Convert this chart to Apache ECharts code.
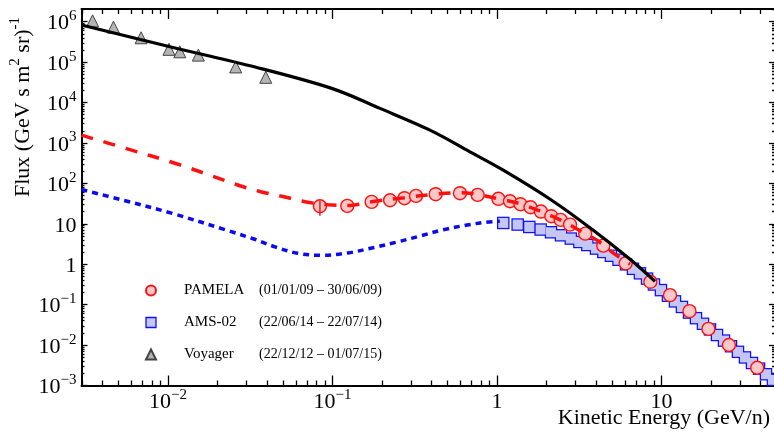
<!DOCTYPE html>
<html><head><meta charset="utf-8">
<script src="https://cdn.jsdelivr.net/npm/echarts@6/dist/echarts.min.js"></script>
<style>html,body{margin:0;padding:0;background:#fff}#c{width:774px;height:432px}</style>
</head><body><div id="c"></div>
<script>
const FONT = '"Liberation Serif","Times New Roman",serif';

// ---- data (kinetic energy GeV/n, flux) ----
const voyagerE = [0.00348, 0.00466, 0.00686, 0.01014, 0.0118, 0.0153, 0.0258, 0.0393];
const voyagerF = [1.05e6, 7.3e5, 4.0e5, 2.07e5, 1.8e5, 1.49e5, 7.6e4, 4.2e4];

const pamelaE = [0.0839,0.123,0.173,0.224,0.274,0.322,0.424,0.596,0.763,1.02,1.20,1.39,1.60,1.85,2.14,2.44,2.78,3.44,4.43,6.06,8.56,11.27,14.8,19.3,25.7,38.2];
const pamelaF = [27.2,27.8,34.9,38.3,43.0,49.2,54.0,57.2,52.1,41.5,36.1,30.5,25.7,20.1,15.4,12.5,9.55,5.71,2.88,1.05,0.368,0.172,0.069,0.0251,0.01005,0.00275];
const pamelaErrE = [0.0839, 0.0839];
const pamelaErrF = [15.8, 37];

const amsE = [1.092,1.336,1.572,1.844,2.13,2.45,2.81,3.17,3.54,4.0,4.43,4.93,5.48,6.09,6.71,7.40,8.17,9.00,9.93,10.95,12.08,13.32,14.70,16.21,17.88,19.72,21.75,23.99,26.46,29.18,32.18,35.5,39.2,43.2,47.6];
const amsF = [10.5,9.58,8.36,7.21,6.18,5.20,4.31,3.55,2.99,2.44,2.01,1.62,1.29,0.995,0.771,0.596,0.441,0.315,0.229,0.166,0.1206,0.0877,0.0637,0.0463,0.0336,0.0244,0.01775,0.0129,0.00937,0.00681,0.00495,0.0036,0.00261,0.0019,0.00138];

const lisE = [0.00298,0.01028,0.0315,0.0989,0.1944,0.3915,0.685,1.092,2.15,3.85,6.44,9.13];
const lisF = [8.28e5,2.40e5,8.13e4,2.24e4,7160,2075,603,212,38.3,6.92,1.32,0.378];

const redE = [0.00298,0.00548,0.0115,0.0274,0.0367,0.0521,0.068,0.0939,0.128,0.173,0.274,0.42,0.596,0.788,1.014,1.38,1.85,2.42,3.2,4.14,5.22,6.44];
const redF = [1560,743,298,87.5,62.2,45.5,35.2,29.6,28.5,35.2,44.2,54,58.8,52,41.7,31.4,20.1,12.5,6.73,3.70,1.76,1.0];

const blueE = [0.00298,0.00535,0.01072,0.0228,0.0329,0.0447,0.0617,0.0875,0.124,0.176,0.247,0.340,0.470,0.658,0.846,1.04];
const blueF = [70.5,38.3,17.9,6.92,4.27,2.70,1.86,1.66,1.90,2.55,3.55,4.98,7.13,9.31,10.9,11.6];

// ---- axes / ticks / labels ----
const xMin = 0.00298, xMax = 49;
const yMin = 0.001, yMax = 2.06e6;
const xMajor = [0.01, 0.1, 1, 10];
const xMajorLabels = ['{b|10}{s|\u22122}', '{b|10}{s|\u22121}', '{b|1}', '{b|10}'];
const yMajor = [1e-3, 1e-2, 1e-1, 1, 10, 100, 1e3, 1e4, 1e5, 1e6];
const yMajorLabels = ['{b|10}{s|\u22123}', '{b|10}{s|\u22122}', '{b|10}{s|\u22121}', '{b|1}', '{b|10}', '{b|10}{s|2}', '{b|10}{s|3}', '{b|10}{s|4}', '{b|10}{s|5}', '{b|10}{s|6}'];
const seriesNames = ['PAMELA', 'AMS-02', 'Voyager'];
const seriesDates = ['(01/01/09 \u2013 30/06/09)', '(22/06/14 \u2013 22/07/14)', '(22/12/12 \u2013 01/07/15)'];
const xTitle = 'Kinetic Energy (GeV/n)';
const yTitle = '{n|Flux (GeV s m}{s|2}{n| sr)}{s|-1}';

function minorTicks(lo, hi) {
  const out = [];
  for (let k = -4; k <= 7; k++) for (let m = 2; m <= 9; m++) {
    const v = m * Math.pow(10, k);
    if (v > lo && v < hi) out.push(+v.toPrecision(3));
  }
  return out;
}
const xMinor = minorTicks(xMin, xMax);
const yMinor = minorTicks(yMin, yMax);

const rich = {
  b: {fontFamily: FONT, fontSize: 22, lineHeight: 26, verticalAlign: 'bottom', color: '#000'},
  s: {fontFamily: FONT, fontSize: 15, lineHeight: 15, verticalAlign: 'top', color: '#000'}
};
function lab(values, labels) {
  return function (v) {
    const i = values.findIndex(t => Math.abs(Math.log10(t) - Math.log10(v)) < 1e-6);
    return i >= 0 ? labels[i] : '';
  };
}
function mkAxis(kind, position, ticks, len, main, labels) {
  const isX = kind === 'x';
  return {
    type: 'log', logBase: 10, position: position,
    min: isX ? xMin : yMin, max: isX ? xMax : yMax,
    axisLine: {show: main, onZero: false, lineStyle: {color: '#000', width: 2}},
    axisTick: {show: true, inside: true, length: len, customValues: ticks, lineStyle: {color: '#000', width: 1.3}},
    axisLabel: labels ? {show: true, customValues: ticks, formatter: lab(ticks, labels), rich: rich, margin: isX ? 2 : 5, color: '#000'} : {show: false},
    splitLine: {show: false}, minorTick: {show: false}, minorSplitLine: {show: false}
  };
}
const xAxes = [
  mkAxis('x', 'bottom', xMajor, 10, true, xMajorLabels),
  mkAxis('x', 'bottom', xMinor, 5, false, null),
  mkAxis('x', 'top', xMajor, 10, true, null),
  mkAxis('x', 'top', xMinor, 5, false, null)
];
const yAxes = [
  mkAxis('y', 'left', yMajor, 6, true, yMajorLabels),
  mkAxis('y', 'left', yMinor, 3, false, null),
  mkAxis('y', 'right', yMajor, 6, true, null),
  mkAxis('y', 'right', yMinor, 3, false, null)
];

const zip = (a, b) => a.map((v, i) => [v, b[i]]);

const chart = echarts.init(document.getElementById('c'), null, {renderer: 'canvas'});
chart.setOption({
  animation: false,
  backgroundColor: '#fff',
  grid: {left: 81.5, right: -1, top: 9, bottom: 46.5, containLabel: false, outerBoundsMode: 'none'},
  xAxis: xAxes,
  yAxis: yAxes,
  legend: {
    orient: 'vertical', left: 145, top: 283, padding: 0, itemWidth: 10, itemHeight: 10, itemGap: 17,
    selectedMode: false,
    data: [
      {name: seriesNames[0], icon: 'circle'},
      {name: seriesNames[1], icon: 'rect', itemStyle: {color: '#c4c6f6', borderColor: '#1010ff', borderWidth: 1.3}},
      {name: seriesNames[2], icon: 'triangle'}
    ],
    formatter: function (name) {
      const i = seriesNames.indexOf(name);
      return '{a|' + name + '}{d|' + seriesDates[i] + '}';
    },
    textStyle: {
      fontFamily: FONT, fontSize: 15, color: '#000',
      rich: {
        a: {fontFamily: FONT, fontSize: 15, color: '#000', width: 75, padding: [0, 0, 0, 23], lineHeight: 16},
        d: {fontFamily: FONT, fontSize: 14, color: '#000', lineHeight: 16}
      }
    }
  },
  graphic: [
    {type: 'text', x: 21, y: 107, rotation: Math.PI / 2,
      style: {text: yTitle, align: 'center', verticalAlign: 'middle', textAlign: 'center', textVerticalAlign: 'middle',
        rich: {
          n: {fontFamily: FONT, fontSize: 22, lineHeight: 26, verticalAlign: 'bottom', fill: '#000'},
          s: {fontFamily: FONT, fontSize: 15, lineHeight: 15, verticalAlign: 'top', fill: '#000'}
        }}},
    {type: 'text', x: 770, y: 418,
      style: {text: xTitle, font: '22px ' + FONT, fill: '#000', align: 'right', verticalAlign: 'middle', textAlign: 'right', textVerticalAlign: 'middle'}}
  ],
  series: [
    {name: 'model-blue', type: 'line', data: zip(blueE, blueF), showSymbol: false, smooth: 0.35,
      lineStyle: {color: '#0a0aee', width: 3.5, type: [6, 5]}, silent: true},
    {name: 'model-red', type: 'line', data: zip(redE, redF), showSymbol: false, smooth: 0.35,
      lineStyle: {color: '#ff1010', width: 3.5, type: [12, 11]}, silent: true},
    {name: 'LIS', type: 'line', data: zip(lisE, lisF), showSymbol: false, smooth: 0.35,
      lineStyle: {color: '#000', width: 3.2}, silent: true},
    {name: 'AMS-edge', type: 'scatter', data: zip(amsE, amsF), symbol: 'rect', symbolSize: 12.5,
      itemStyle: {color: '#1010ff', opacity: 1}, silent: true},
    {name: seriesNames[1], type: 'scatter', data: zip(amsE, amsF), symbol: 'rect', symbolSize: 10,
      itemStyle: {color: '#c4c6f6', opacity: 1}, silent: true},
    {name: 'PAMELA-err', type: 'line', data: zip(pamelaErrE, pamelaErrF), showSymbol: false,
      lineStyle: {color: '#ff1010', width: 1.5}, silent: true},
    {name: seriesNames[0], type: 'scatter', data: zip(pamelaE, pamelaF), symbol: 'circle', symbolSize: 13,
      itemStyle: {color: '#ffc8c8', borderColor: '#ff1010', borderWidth: 1.4, opacity: 1}, silent: true},
    {name: seriesNames[2], type: 'scatter', data: zip(voyagerE, voyagerF), symbol: 'triangle', symbolSize: 12,
      itemStyle: {color: '#b4b4b4', borderColor: '#444', borderWidth: 1, opacity: 1}, silent: true}
  ]
});
</script>
</body></html>
